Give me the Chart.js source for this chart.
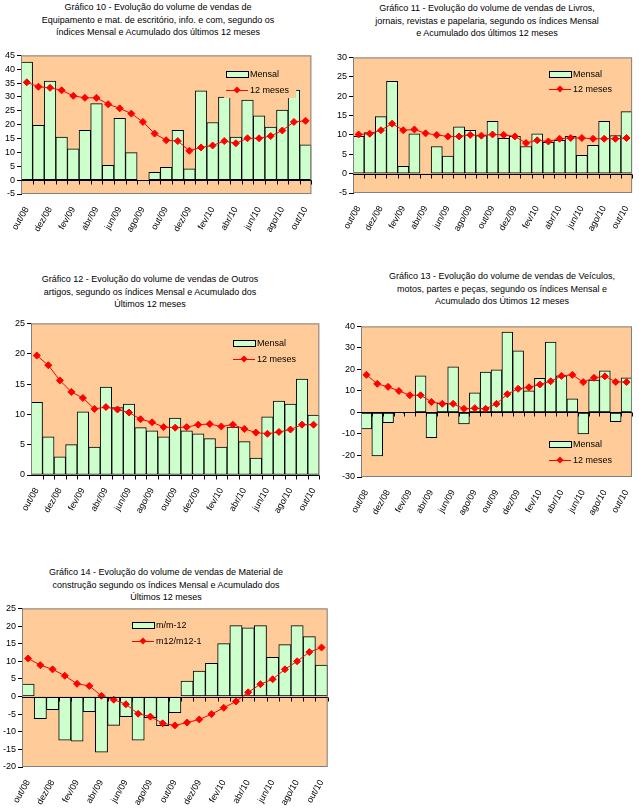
<!DOCTYPE html>
<html>
<head>
<meta charset="utf-8">
<script src="https://cdn.jsdelivr.net/npm/chart.js@4.4.0/dist/chart.umd.min.js"></script>
<style>
  body { margin: 0; background: #fff; width: 639px; height: 809px; position: relative; overflow: hidden;
         font-family: "Liberation Sans", Arial, sans-serif; }
  .t { position: absolute; width: 320px; font-size: 9px; line-height: 12.5px; text-align: center; color: #000; white-space: nowrap; }
  canvas { position: absolute; }
</style>
</head>
<body>
<div class="t" style="left:-2px;top:1px">Gráfico 10 - Evolução do volume de vendas de<br>Equipamento e mat. de escritório, info. e com, segundo os<br>índices Mensal e Acumulado dos últimos 12 meses</div>
<div class="t" style="left:327px;top:2px">Gráfico 11 - Evolução do volume de vendas de Livros,<br>jornais, revistas e papelaria, segundo os índices Mensal<br>e Acumulado dos últimos 12 meses</div>
<div class="t" style="left:-10px;top:273px">Gráfico 12 - Evolução do volume de vendas de Outros<br>artigos, segundo os índices Mensal e Acumulado dos<br>Últimos 12 meses</div>
<div class="t" style="left:342px;top:270px">Gráfico 13 - Evolução do volume de vendas de Veículos,<br>motos, partes e peças, segundo os índices Mensal e<br>Acumulado dos Útimos 12 meses</div>
<div class="t" style="left:6px;top:566px">Gráfico 14 - Evolução do volume de vendas de Material de<br>construção segundo os índices Mensal e Acumulado dos<br>Últimos 12 meses</div>

<canvas id="c10" width="318" height="197" style="left:0;top:48px"></canvas>
<canvas id="c11" width="319" height="190" style="left:320px;top:50px"></canvas>
<canvas id="c12" width="326" height="212" style="left:0;top:316px"></canvas>
<canvas id="c13" width="319" height="210" style="left:320px;top:319px"></canvas>
<canvas id="c14" width="334" height="208" style="left:0;top:601px"></canvas>

<script>
"use strict";
const months = ["out/08", "nov/08", "dez/08", "jan/09", "fev/09", "mar/09", "abr/09", "mai/09", "jun/09",
  "jul/09", "ago/09", "set/09", "out/09", "nov/09", "dez/09", "jan/10", "fev/10", "mar/10", "abr/10",
  "mai/10", "jun/10", "jul/10", "ago/10", "set/10", "out/10"];

// Gráfico 10 - Equipamento e mat. de escritório
const mensal10 = [42.6, 19.8, 35.7, 15.5, 11.3, 18.0, 27.6, 5.3, 22.3, 9.9, null, 2.8, 4.6, 18.0, 4.1,
  32.2, 20.8, 30.0, 15.5, 28.9, 23.2, 19.1, 25.3, 32.5, 12.7];
const meses10 = [35.3, 33.7, 33.3, 32.4, 30.4, 29.7, 29.7, 27.4, 25.9, 24.0, 21.0, 16.8, 14.4, 14.1, 10.6,
  11.8, 12.5, 14.1, 13.3, 15.1, 15.1, 15.9, 17.9, 21.0, 21.4];

// Gráfico 11 - Livros, jornais, revistas e papelaria
const mensal11 = [9.6, 10.6, 14.7, 23.8, 1.9, 10.3, -0.3, 7.0, 4.5, 12.1, 11.2, 9.8, 13.5, 9.1, 9.6,
  7.0, 10.3, 8.1, 8.6, 9.6, 4.7, 7.3, 13.5, 9.8, 16.0];
const meses11 = [10.1, 10.3, 11.2, 12.9, 11.2, 11.4, 10.4, 10.0, 9.6, 9.6, 10.0, 9.8, 10.1, 10.0, 9.6,
  7.9, 8.6, 8.3, 9.0, 9.2, 9.2, 9.0, 9.0, 9.0, 9.2];

// Gráfico 12 - Outros artigos
const mensal12 = [12.0, 6.3, 3.0, 5.0, 10.4, 4.6, 14.5, 11.1, 11.7, 7.8, 7.3, 6.3, 9.4, 7.3, 6.8,
  6.0, 4.6, 7.9, 5.5, 2.8, 9.6, 12.2, 11.7, 15.8, 9.9];
const meses12 = [19.7, 18.1, 15.6, 13.7, 12.7, 10.9, 11.2, 10.8, 10.3, 9.2, 8.7, 7.9, 7.8, 7.9, 8.3,
  8.4, 8.0, 8.3, 7.6, 7.0, 6.8, 7.1, 7.5, 8.3, 8.3];

// Gráfico 13 - Veículos, motos, partes e peças
const mensal13 = [-7.6, -20.2, -4.8, -0.6, null, 17.0, -11.7, 4.3, 21.2, -5.3, 9.1, 18.8, 19.8, 37.4, 28.6,
  10.0, 15.9, 32.7, 17.0, 6.3, -10.0, 15.1, 19.3, -4.3, 16.1];
const meses13 = [17.5, 13.3, 11.9, 10.0, 8.0, 8.0, 4.9, 4.0, 4.0, 1.7, 2.0, 1.7, 4.0, 8.5, 11.0,
  11.7, 13.0, 14.5, 17.0, 17.5, 14.1, 16.1, 16.8, 14.2, 14.1];

// Gráfico 14 - Material de construção
const mensal14 = [3.5, -6.3, -3.7, -12.4, -12.7, -4.3, -15.8, -8.2, -5.7, -12.4, -6.0, -8.3, -4.6, 4.4, 7.2,
  9.4, 15.0, 20.1, 19.5, 20.1, 11.1, 14.7, 20.1, 17.0, 8.9];
const meses14 = [10.8, 8.9, 7.7, 5.9, 3.6, 3.0, 0.2, -0.9, -2.2, -4.9, -5.7, -7.6, -8.2, -7.4, -6.5,
  -5.0, -3.2, -1.4, 1.2, 3.5, 4.9, 7.7, 10.0, 12.6, 13.9];

const FONT = { family: "'Liberation Sans', Arial, sans-serif", size: 9 };
const PEACH = "#FFCC99";
const GREEN = "#CCFFCC";

/**
 * Peach plot area, border, zero axis with tick marks and the inner legend
 */
const plotPlugin = {
  id: "plot",
  beforeDatasetsDraw(chart) {
    const a = chart.chartArea;
    const ctx = chart.ctx;
    ctx.save();
    ctx.fillStyle = PEACH;
    ctx.fillRect(a.left, a.top, a.right - a.left, a.bottom - a.top);
    ctx.restore();
  },
  afterDatasetsDraw(chart) {
    const a = chart.chartArea;
    const ctx = chart.ctx;
    const xs = chart.scales.x;
    const y0 = Math.round(chart.scales.y.getPixelForValue(0)) + 0.5;
    const n = chart.data.labels.length;
    const w = (a.right - a.left) / n;
    ctx.save();
    ctx.strokeStyle = "#808080";
    ctx.lineWidth = 1;
    ctx.strokeRect(a.left + 0.5, a.top + 0.5, a.right - a.left - 1, a.bottom - a.top - 1);
    ctx.strokeStyle = "#000";
    ctx.beginPath();
    ctx.moveTo(a.left, y0);
    ctx.lineTo(a.right, y0);
    for (let i = 0; i < n; i++) {
      const xx = Math.round(xs.getPixelForValue(i) + w / 2) + 0.5;
      ctx.moveTo(xx, y0);
      ctx.lineTo(xx, y0 + 4);
    }
    ctx.stroke();
    ctx.restore();
  },
  afterDraw(chart) {
    const lg = chart.options.plugins.plot;
    if (!lg) return;
    const ctx = chart.ctx;
    const x0 = lg.x, r1 = lg.r1, r2 = lg.r2;
    ctx.save();
    ctx.fillStyle = PEACH;
    ctx.fillRect(x0 - 2, r1 - 8, lg.w, r2 - r1 + 16);
    ctx.fillStyle = GREEN;
    ctx.strokeStyle = "#000";
    ctx.lineWidth = 1;
    ctx.fillRect(x0, r1 - 3, 22, 6);
    ctx.strokeRect(x0 + 0.5, r1 - 2.5, 22, 6);
    ctx.strokeStyle = "#FF0000";
    ctx.beginPath();
    ctx.moveTo(x0, r2 + 0.5);
    ctx.lineTo(x0 + 22, r2 + 0.5);
    ctx.stroke();
    ctx.fillStyle = "#FF0000";
    ctx.beginPath();
    ctx.moveTo(x0 + 11, r2 - 3.5);
    ctx.lineTo(x0 + 14.5, r2);
    ctx.lineTo(x0 + 11, r2 + 3.5);
    ctx.lineTo(x0 + 7.5, r2);
    ctx.closePath();
    ctx.fill();
    ctx.fillStyle = "#000";
    ctx.font = "9px 'Liberation Sans', Arial, sans-serif";
    ctx.textBaseline = "middle";
    ctx.fillText(chart.data.datasets[1].label, x0 + 24, r1 + 0.5);
    ctx.fillText(chart.data.datasets[0].label, x0 + 24, r2 + 0.5);
    ctx.restore();
  },
};

/**
 * Build one of the combo charts (bars = mensal, line = 12 meses)
 */
function makeChart(id, bars, line, yMin, yMax, step, box, legend, names) {
  return new Chart(document.getElementById(id), {
    type: "bar",
    data: {
      labels: months,
      datasets: [
        {
          type: "line",
          label: names[1],
          data: line,
          order: 0,
          borderColor: "#FF0000",
          borderWidth: 1,
          pointStyle: "rectRot",
          pointRadius: 3.5,
          pointBackgroundColor: "#FF0000",
          pointBorderColor: "#FF0000",
          tension: 0,
        },
        {
          type: "bar",
          label: names[0],
          data: bars,
          order: 1,
          backgroundColor: GREEN,
          borderColor: "#000",
          borderWidth: 1,
          borderSkipped: false,
          barPercentage: 1,
          categoryPercentage: 1,
        },
      ],
    },
    options: {
      responsive: false,
      animation: false,
      layout: { padding: { top: box.top, right: box.right, left: 0, bottom: 0 } },
      plugins: {
        legend: { display: false },
        tooltip: { enabled: false },
        plot: legend,
      },
      scales: {
        x: {
          offset: true,
          grid: { display: false },
          border: { display: false },
          ticks: {
            autoSkip: false,
            minRotation: 60,
            maxRotation: 60,
            padding: 3,
            color: "#000",
            font: FONT,
            callback: (v, i) => (i % 2 === 0 ? months[i] : ""),
          },
          afterFit: (s) => { s.height = box.xh; },
        },
        y: {
          min: yMin,
          max: yMax,
          grid: { drawOnChartArea: false, tickLength: 4, color: "#000" },
          border: { color: "#000" },
          ticks: { stepSize: step, padding: 2, color: "#000", font: FONT },
          afterFit: (s) => { s.width = box.yw; },
        },
      },
    },
    plugins: [plotPlugin],
  });
}

const NAMES = ["Mensal", "12 meses"];
makeChart("c10", mensal10, meses10, -5, 45, 5, { top: 6, right: 5, xh: 51, yw: 21 },
  { x: 226, r1: 74 - 48, r2: 90 - 48, w: 72 }, NAMES);
makeChart("c11", mensal11, meses11, -5, 30, 5, { top: 6, right: 6, xh: 47, yw: 33 },
  { x: 549 - 320, r1: 74 - 50, r2: 89 - 50, w: 70 }, NAMES);
makeChart("c12", mensal12, meses12, 0, 25, 5, { top: 6, right: 4, xh: 53, yw: 31 },
  { x: 233, r1: 343 - 316, r2: 359 - 316, w: 70 }, NAMES);
makeChart("c13", mensal13, meses13, -30, 40, 10, { top: 6, right: 4, xh: 52, yw: 41 },
  { x: 549 - 320, r1: 444 - 319, r2: 460 - 319, w: 70 }, NAMES);
makeChart("c14", mensal14, meses14, -20, 25, 5, { top: 6, right: 5, xh: 42, yw: 22 },
  { x: 132, r1: 625 - 601, r2: 641 - 601, w: 80 }, ["m/m-12", "m12/m12-1"]);
</script>
</body>
</html>
